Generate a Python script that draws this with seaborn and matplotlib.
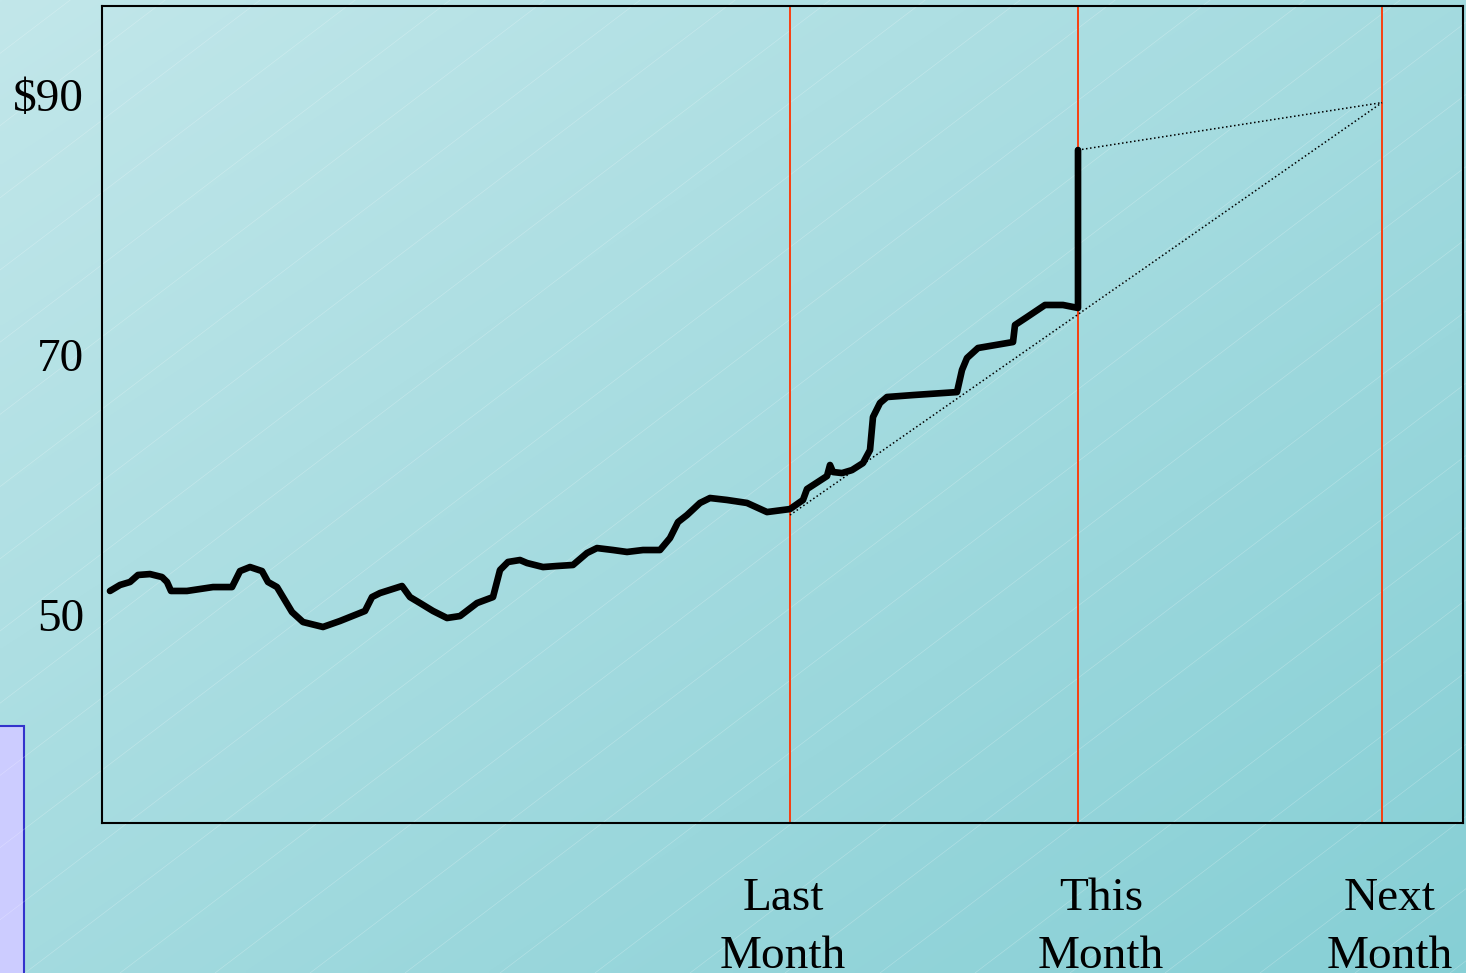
import numpy as np
import pandas as pd
import matplotlib
matplotlib.use("Agg")
import matplotlib.pyplot as plt
import matplotlib.transforms as mtransforms
from matplotlib.patches import Rectangle
import seaborn as sns

# price path (x = trading-day-ish position, y = price in $)
day = [0.8, 1.8, 2.8, 3.6, 4.8, 6.0, 6.5, 6.9, 8.5, 11.1, 13.0, 13.8, 14.8, 16.0,
       16.6, 17.5, 18.1, 19.0, 20.1, 22.1, 23.8, 26.3, 27.0, 27.8, 30.0, 30.8,
       31.8, 33.1, 34.5, 35.8, 37.5, 39.1, 39.8, 40.6, 41.8, 42.5, 44.1, 45.5,
       47.1, 48.5, 49.5, 51.1, 52.5, 54.1, 55.8, 56.8, 57.6, 58.5, 59.8, 60.8,
       62.5, 64.5, 66.5, 68.8, 70.1, 70.5, 72.5, 72.8, 73.1, 74.0, 75.0, 76.1,
       76.8, 77.1, 77.8, 78.5, 81.1, 85.5, 86.0, 86.5, 87.6, 91.1, 91.3, 92.5,
       94.3, 96.1, 97.6, 97.6]
price = [51.85, 52.31, 52.54, 53.08, 53.15, 52.92, 52.54, 51.85, 51.85, 52.15,
         52.15, 53.38, 53.69, 53.38, 52.54, 52.15, 51.38, 50.23, 49.46, 49.08,
         49.54, 50.31, 51.38, 51.69, 52.23, 51.38, 50.92, 50.31, 49.77, 49.92,
         50.92, 51.38, 53.46, 54.08, 54.23, 54.00, 53.69, 53.77, 53.85, 54.77,
         55.15, 55.00, 54.85, 55.00, 55.00, 55.92, 57.15, 57.69, 58.62, 59.00,
         58.85, 58.62, 57.92, 58.15, 58.85, 59.69, 60.69, 61.54, 61.00, 60.92,
         61.15, 61.69, 62.69, 65.23, 66.31, 66.77, 66.92, 67.15, 68.85, 69.77,
         70.54, 71.00, 72.31, 72.92, 73.85, 73.85, 73.62, 85.77]

month_marks = [68.8, 97.6, 128.0]
month_labels = ["Last\nMonth", "This\nMonth", "Next\nMonth"]
month_label_x = [68.1, 99.9, 128.8]

# projection lines (dotted)
trend_low_x = [68.8, 128.0]
trend_low_y = [57.69, 89.42]
trend_high_x = [97.6, 128.0]
trend_high_y = [85.77, 89.42]

yticks = [50, 70, 90]
ytick_labels = ["50", "70", "$90"]

df = pd.DataFrame({"day": day, "price": price})

sns.set_style("white")
plt.rcParams["font.family"] = ["Liberation Serif", "DejaVu Serif"]
plt.rcParams["text.color"] = "black"
plt.rcParams["ytick.color"] = "black"

fig = plt.figure(figsize=(14.66, 9.73), dpi=100)

# background: diagonal teal gradient with faint stripes
bg = fig.add_axes([0, 0, 1, 1], zorder=-1)
W, H = 1466, 973
xx, yy = np.meshgrid(np.linspace(0, 1, 300), np.linspace(0, 1, 200))
t = (xx + yy) / 2
c0 = np.array([0xC2, 0xE7, 0xEA]) / 255
c1 = np.array([0x86, 0xCF, 0xD5]) / 255
img = c0[None, None, :] * (1 - t[..., None]) + c1[None, None, :] * t[..., None]
bg.imshow(img, extent=[0, W, H, 0], aspect="auto", interpolation="bilinear")
slope = 0.76
for x0 in np.arange(-1400, 1600, 95):
    bg.plot([x0, x0 + H / slope], [H, 0], color="white", lw=0.5, alpha=0.25)
bg.add_patch(Rectangle((-5, 726), 29, 260, facecolor="#CCCCFF",
                       edgecolor="#3333CC", lw=1.5))
bg.set_xlim(0, W)
bg.set_ylim(H, 0)
bg.axis("off")

ax = fig.add_axes([102 / W, 1 - 823 / H, (1463 - 102) / W, (823 - 6) / H])
ax.set_facecolor("none")

for xm in month_marks:
    ax.axvline(xm, color="#FF3300", lw=1.3, zorder=1)

ax.plot(trend_low_x, trend_low_y, color="black", ls=":", lw=1.1, zorder=2)
ax.plot(trend_high_x, trend_high_y, color="black", ls=":", lw=1.1, zorder=2)

sns.lineplot(data=df, x="day", y="price", estimator=None, sort=False,
             color="black", lw=4.8, ax=ax, zorder=3)

ax.set_xlim(-0.0, 136.1)
ax.set_ylim(34.0, 96.85)
ax.set_xticks([])
ax.set_yticks(yticks)
ax.set_yticklabels(ytick_labels, fontsize=34, color="black")
ax.tick_params(axis="y", length=0, pad=13)
ax.set_xlabel("")
ax.set_ylabel("")
for s in ax.spines.values():
    s.set_visible(True)
    s.set_color("black")
    s.set_linewidth(1.5)

trans = mtransforms.blended_transform_factory(ax.transData, fig.transFigure)
for xl, lab in zip(month_label_x, month_labels):
    top, bottom = lab.split("\n")
    ax.text(xl, 1 - 910 / H, top, transform=trans, ha="center", va="baseline",
            fontsize=34, color="black")
    ax.text(xl, 1 - 968 / H, bottom, transform=trans, ha="center", va="baseline",
            fontsize=34, color="black")

fig.savefig("out.png", dpi=100)
